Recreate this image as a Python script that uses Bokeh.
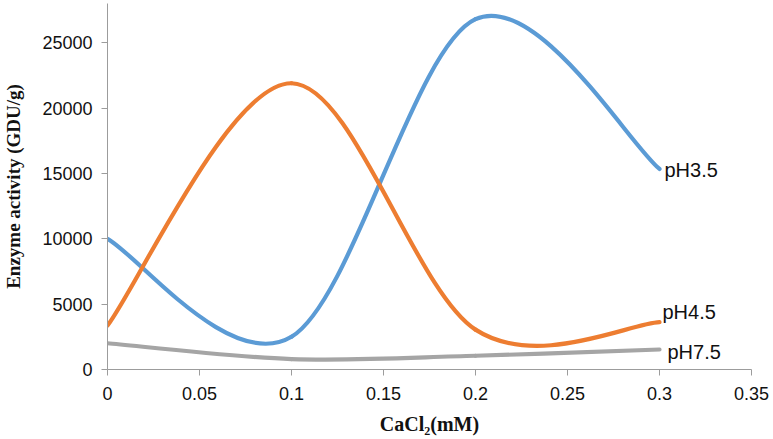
from bokeh.plotting import figure
from bokeh.models import Range1d, FixedTicker, CustomJSTickFormatter, ColumnDataSource
from bokeh.core.properties import value
from bokeh.embed import file_html
from bokeh.resources import INLINE

# ---- data ----
cacl2 = [0.0, 0.1, 0.2, 0.3]
ph35 = [10000, 2500, 26800, 15340]
ph45 = [3360, 21900, 3050, 3620]
ph75 = [2010, 800, 1050, 1530]
series_names = ["pH3.5", "pH4.5", "pH7.5"]
series_values = [ph35, ph45, ph75]
series_colors = ["#5B9BD5", "#ED7D31", "#A5A5A5"]
x_ticks = [0, 0.05, 0.1, 0.15, 0.2, 0.25, 0.3, 0.35]
y_ticks = [0, 5000, 10000, 15000, 20000, 25000]

# label pixel offsets (style; +y is down on screen)
label_dx = [5, 3, 8]
label_dy = [1, -10, 2]

p = figure(width=773, height=439, output_backend="svg", toolbar_location=None,
           x_range=Range1d(0, 0.35), y_range=Range1d(0, 28000),
           min_border_left=107, min_border_right=22, min_border_top=3, min_border_bottom=70)
p.outline_line_color = None
p.grid.visible = False
p.background_fill_color = "white"


def excel_smooth(xs, ys):
    n = len(xs)
    seg = dict(x0=[], y0=[], x1=[], y1=[], cx0=[], cy0=[], cx1=[], cy1=[])
    for i in range(n - 1):
        a = i - 1 if i > 0 else i
        d = i + 2 if i + 2 < n else i + 1
        seg["x0"].append(xs[i]); seg["y0"].append(ys[i])
        seg["x1"].append(xs[i + 1]); seg["y1"].append(ys[i + 1])
        seg["cx0"].append(xs[i] + (xs[i + 1] - xs[a]) / 6)
        seg["cy0"].append(ys[i] + (ys[i + 1] - ys[a]) / 6)
        seg["cx1"].append(xs[i + 1] - (xs[d] - xs[i]) / 6)
        seg["cy1"].append(ys[i + 1] - (ys[d] - ys[i]) / 6)
    return seg


for name, vals, col in zip(series_names, series_values, series_colors):
    src = ColumnDataSource(excel_smooth(cacl2, vals))
    p.bezier(x0="x0", y0="y0", x1="x1", y1="y1", cx0="cx0", cy0="cy0", cx1="cx1", cy1="cy1",
             source=src, line_color=col, line_width=4.2, line_cap="round")

# end labels
lab_src = ColumnDataSource(dict(
    x=[cacl2[-1]] * 3,
    y=[v[-1] for v in series_values],
    text=series_names,
    dx=label_dx,
    dy=label_dy,
))
p.text(x="x", y="y", text="text", x_offset="dx", y_offset="dy", source=lab_src,
       text_font=value("Liberation Sans"), text_font_size="20px", text_color="#111111",
       text_baseline="middle", text_align="left")

# axes
for ax in (p.xaxis[0], p.yaxis[0]):
    ax.axis_line_color = "#9c9c9c"
    ax.major_tick_line_color = "#9c9c9c"
    ax.major_tick_out = 6
    ax.major_tick_in = 0
    ax.minor_tick_line_color = None
    ax.major_label_text_font = "Liberation Sans"
    ax.major_label_text_font_size = "18px"
    ax.major_label_text_color = "#111111"
    ax.axis_label_text_font = "Liberation Serif"
    ax.axis_label_text_font_style = "bold"
    ax.axis_label_text_color = "#111111"

p.xaxis.ticker = FixedTicker(ticks=x_ticks)
p.yaxis.ticker = FixedTicker(ticks=y_ticks)
p.xaxis.formatter = CustomJSTickFormatter(code="return String(Math.round(tick*100)/100);")
p.yaxis.formatter = CustomJSTickFormatter(code="return String(Math.round(tick));")
p.xaxis.major_label_standoff = 11
p.yaxis.major_label_standoff = 9

p.yaxis.axis_label = "Enzyme activity (GDU/g)"
p.yaxis.axis_label_text_font_size = "19px"
p.yaxis.axis_label_standoff = 15
p.xaxis.axis_label = "CaCl\u2082(mM)"
p.xaxis.axis_label_text_font_size = "20px"
p.xaxis.axis_label_standoff = 10

open("out.html", "w").write(file_html(p, INLINE))
